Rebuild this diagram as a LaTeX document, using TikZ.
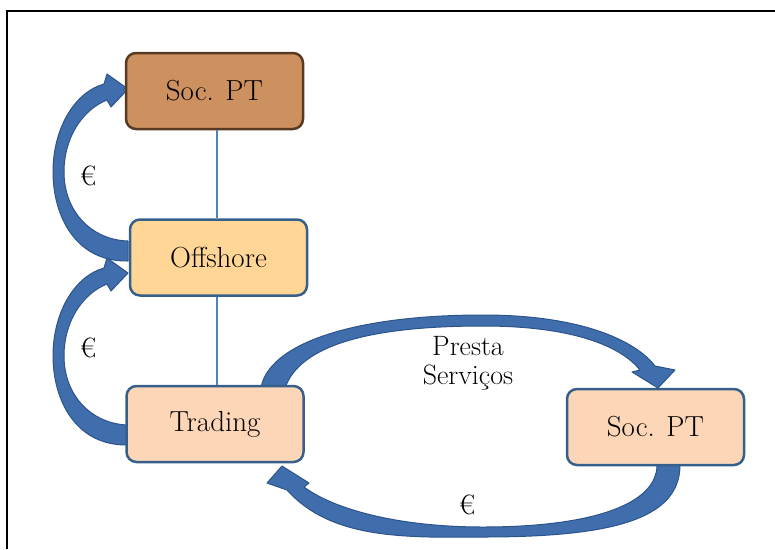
\documentclass[tikz,border=0pt]{standalone}
\usepackage{fontspec}
\definecolor{arrowfill}{RGB}{64,110,172}
\definecolor{arrowdraw}{RGB}{44,84,138}
\definecolor{brownfill}{RGB}{205,145,95}
\definecolor{browndraw}{RGB}{88,58,34}
\definecolor{offfill}{RGB}{255,214,150}
\definecolor{peachfill}{RGB}{252,214,182}
\definecolor{boxdraw}{RGB}{55,95,140}
\definecolor{thinline}{RGB}{79,129,189}
\tikzset{
  entity/.style={rounded corners=10pt, line width=2.5pt, minimum width=177pt,
    minimum height=76pt, font=\fontsize{29}{31}\selectfont, inner sep=0pt},
  blockarrow/.style={fill=arrowfill, draw=arrowdraw, line width=1pt, line join=round},
  link/.style={draw=thinline, line width=1.2pt},
  lbl/.style={font=\fontsize{28}{29}\selectfont, inner sep=0pt, align=center}
}
\begin{document}
\begin{tikzpicture}[x=1pt,y=-1pt]
\useasboundingbox (0,0) rectangle (775,549);
% frame
\draw[line width=2.5pt] (7,549) -- (7,11) -- (775,11);

% block arrows (drawn first, boxes cover their tails)
% Offshore -> Soc. PT (top)
\draw[blockarrow] (128,261) .. controls (75,262) and (53,215) .. (53,172)
  .. controls (53,128) and (75,92) .. (104,84) -- (107,74) -- (128,89) -- (111,107) -- (107,100)
  .. controls (82,110) and (64,138) .. (64,172) .. controls (64,212) and (92,240) .. (128,241) -- cycle;
% Trading -> Offshore
\begin{scope}[yshift=-184pt]
\draw[blockarrow] (128,261) .. controls (75,262) and (53,215) .. (53,172)
  .. controls (53,128) and (75,92) .. (104,84) -- (107,74) -- (128,89) -- (111,107) -- (107,100)
  .. controls (82,110) and (64,138) .. (64,172) .. controls (64,212) and (92,240) .. (128,241) -- cycle;
\end{scope}
% Trading -> Soc. PT (right), upper arc
\draw[blockarrow] (261,388) .. controls (268,345) and (350,315) .. (483,315)
  .. controls (580,315) and (635,340) .. (655,366) -- (675,370) -- (658,388) -- (632,372) -- (640,370)
  .. controls (620,345) and (570,326) .. (483,326) .. controls (370,326) and (300,345) .. (285,388) -- cycle;
% Soc. PT (right) -> Trading, lower arc
\draw[blockarrow] (680,465) .. controls (680,520) and (610,537) .. (483,537)
  .. controls (400,538) and (330,538) .. (287,490) -- (267,483) -- (282,466) -- (309,483) -- (304,487)
  .. controls (335,510) and (400,527) .. (483,527) .. controls (590,527) and (657,505) .. (657,465) -- cycle;

% boxes
\node[entity, fill=brownfill, draw=browndraw] (top) at (214.5,91) {Soc. PT};
\node[entity, fill=offfill, draw=boxdraw] (off) at (218.5,257.5) {Offshore};
\node[entity, fill=peachfill, draw=boxdraw] (trad) at (215,424) {Trading};
\node[entity, fill=peachfill, draw=boxdraw] (soc) at (655.5,427) {Soc. PT};

% thin links
\draw[link] (top.south -| 217,0) -- (off.north -| 217,0);
\draw[link] (off.south -| 217,0) -- (trad.north -| 217,0);

% labels
\node[lbl] (e1) at (88,176) {€};
\node[lbl] (e2) at (88,348) {€};
\node[lbl] (e3) at (467,505) {€};
\node[lbl] (ps) at (468,363) {Presta\\Serviços};
\end{tikzpicture}
\end{document}
